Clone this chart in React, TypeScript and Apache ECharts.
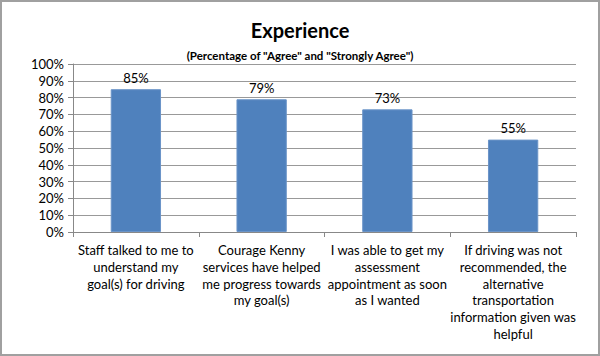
import React, { useEffect, useRef } from "react";
import * as echarts from "echarts";

const categories = [
  "Staff talked to me to\nunderstand my\ngoal(s) for driving",
  "Courage Kenny\nservices have helped\nme progress towards\nmy goal(s)",
  "I was able to get my\nassessment\nappointment as soon\nas I wanted",
  "If driving was not\nrecommended, the\nalternative\ntransportation\ninformation given was\nhelpful",
];
const values = [85, 79, 73, 55];
const yTicks = [0, 10, 20, 30, 40, 50, 60, 70, 80, 90, 100];

const FONT = "Lato, 'Open Sans', sans-serif";

export default function App() {
  const ref = useRef<HTMLDivElement>(null);
  useEffect(() => {
    document.body.style.margin = "0";
    const chart = echarts.init(ref.current!, null, { renderer: "svg" });
    chart.setOption({
      animation: false,
      textStyle: { fontFamily: FONT },
      title: [
        {
          text: "Experience",
          left: "center",
          top: 13,
          textStyle: { fontSize: 20, fontWeight: "bold", color: "#000", fontFamily: FONT },
        },
        {
          text: '(Percentage of "Agree" and "Strongly Agree")',
          left: "center",
          top: 42,
          textStyle: { fontSize: 11.5, fontWeight: "bold", color: "#000", fontFamily: FONT },
        },
      ],
      grid: { left: 71, right: 22, top: 62, bottom: 122 },
      xAxis: {
        type: "category",
        data: categories,
        axisLine: { lineStyle: { color: "#888", width: 1 } },
        axisTick: { show: true, length: 5, lineStyle: { color: "#888" } },
        axisLabel: {
          color: "#000",
          fontSize: 13,
          lineHeight: 16.7,
          interval: 0,
          margin: 10,
          fontFamily: FONT,
        },
      },
      yAxis: {
        type: "value",
        min: yTicks[0],
        max: yTicks[yTicks.length - 1],
        interval: 10,
        axisLine: { show: true, lineStyle: { color: "#888", width: 1 } },
        axisTick: { show: true, length: 5, lineStyle: { color: "#888" } },
        splitLine: { lineStyle: { color: "#999", width: 1 } },
        axisLabel: {
          color: "#000",
          fontSize: 13,
          margin: 9,
          formatter: (v: number) => v + "%",
          fontFamily: FONT,
        },
      },
      series: [
        {
          type: "bar",
          data: values,
          barWidth: "40%",
          itemStyle: { color: "#4F81BD", borderColor: "#6A94C8", borderWidth: 1 },
          label: {
            show: true,
            position: "top",
            distance: 5,
            color: "#000",
            fontSize: 13,
            formatter: (p: any) => p.value + "%",
            fontFamily: FONT,
          },
        },
      ],
    });
    return () => chart.dispose();
  }, []);
  return (
    <div
      style={{
        width: 600,
        height: 356,
        boxSizing: "border-box",
        border: "2px solid #a0a0a0",
        background: "#fff",
      }}
    >
      <div ref={ref} style={{ width: 596, height: 352 }} />
    </div>
  );
}
